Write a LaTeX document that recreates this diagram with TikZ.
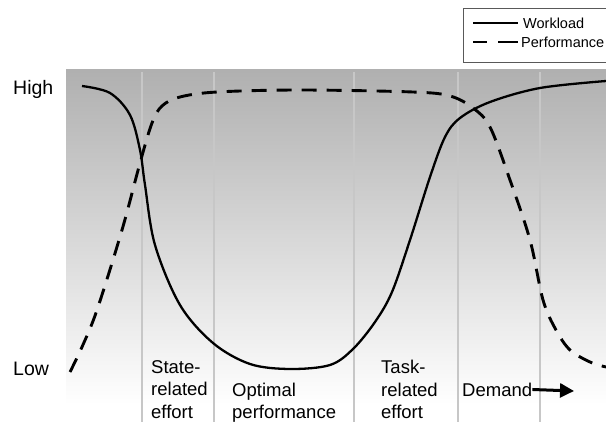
\documentclass[tikz,border=0pt]{standalone}
\usepackage{fontspec}
\setmainfont{Liberation Sans}
\usetikzlibrary{arrows.meta}
\definecolor{bandtop}{gray}{0.69}
\definecolor{divider}{gray}{0.78}
\definecolor{framegray}{gray}{0.35}

\begin{document}
\begin{tikzpicture}[x=1pt,y=-1pt,
  axislabel/.style={font=\fontsize{19.5}{22}\selectfont, inner sep=0pt, anchor=west},
  zonelabel/.style={font=\fontsize{18.5}{22.5}\selectfont, align=left, inner sep=0pt, anchor=north west},
  legendtext/.style={font=\fontsize{14.5}{17}\selectfont, inner sep=0pt, anchor=west},
  workload/.style={line width=2.3pt},
  performance/.style={line width=2.9pt, dash pattern=on 15pt off 10pt}]
\useasboundingbox (0,0) rectangle (606,422);
\clip (0,0) rectangle (606,422);

%Hintergrund und Trennlinien
\shade[top color=bandtop, bottom color=white] (66,70) rectangle (606,405);
\draw[divider, line width=2pt]
  (142,72) -- (142,422)
  (214,72) -- (214,422)
  (354,72) -- (354,422)
  (458,72) -- (458,422)
  (540,72) -- (540,422);

%Beschriftung
\node[axislabel] (high) at (13,89) {High};
\node[axislabel] (low) at (13,369) {Low};
\node[zonelabel] (state) at (151,360) {State-\\related\\effort};
\node[zonelabel] (optimal) at (232,382.5) {Optimal\\performance};
\node[zonelabel] (task) at (381,360) {Task-\\related\\effort};
\node[zonelabel] (demand) at (462,382.5) {Demand};
\coordinate (demandtip) at (574,391);
\draw[line width=3pt, -{Triangle[length=14pt,width=14pt]}] (demand.east) -- (demandtip);

%Kurven
\draw[workload] plot[smooth, tension=0.55] coordinates {
  (82,86) (110,93) (130,115) (140,150) (145,185) (155,245) (180,305)
  (213,343) (250,364) (290,369) (330,365) (353,349) (375,322) (392,292)
  (410,240) (430,177) (445,137) (460,118) (490,102) (540,88) (606,81)};
\draw[performance] plot[smooth, tension=0.55] coordinates {
  (70,372) (82,347) (97,310) (122,230) (140,163) (152,123) (162,106)
  (180,97) (217,92) (300,90) (413,92) (450,96) (473,108) (490,127)
  (510,180) (530,240) (543,300) (556,330) (570,350) (590,362) (606,367)};

%Legende
\draw[framegray, line width=1pt] (463,9) rectangle (620,63);
\node[legendtext] (wl) at (523,23) {Workload};
\node[legendtext] (pf) at (521,42) {Performance};
\coordinate (wlstart) at (473,23);
\coordinate (pfstart) at (473,42);
\draw[workload, shorten >=5pt] (wlstart) -- (wl.west);
\draw[line width=2.9pt, dash pattern=on 14pt off 11pt on 20pt, shorten >=3pt] (pfstart) -- (pf.west);
\end{tikzpicture}
\end{document}
